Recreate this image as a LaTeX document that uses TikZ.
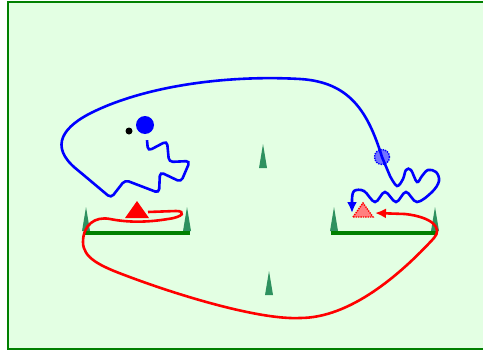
\documentclass[tikz,border=0pt]{standalone}
\usepackage{tikz}
\usetikzlibrary{shapes,shapes.geometric,arrows.meta,positioning}
\definecolor{lawn}{RGB}{227,255,227}
\definecolor{hedge}{RGB}{0,128,0}
\definecolor{pine}{RGB}{46,145,95}
\tikzstyle{ledge}=[draw=hedge,line width=3.2pt]
\tikzstyle{cone}=[fill=pine]
\tikzstyle{bluetrack}=[draw=blue,line width=2.6pt,-{Latex[length=11pt,width=10pt]}]
\tikzstyle{redtrack}=[draw=red,line width=2.6pt,-{Latex[length=11pt,width=10pt]}]
\tikzstyle{ball}=[circle,inner sep=0pt,fill=blue,minimum size=18pt]
\tikzstyle{ghost}=[ball,fill=blue!55,draw=blue,densely dotted,line width=1.4pt,minimum size=15pt]

\begin{document}
\begin{tikzpicture}[x=1pt,y=-1pt]
  \useasboundingbox (0,0) rectangle (483,351);
  \draw[hedge,fill=lawn,line width=2.2pt] (8,2) rectangle (492,349);
  % cones and ledges
  \foreach \x/\y in {86/231,187/231,334/231,435/231,263/168,269/295}
    \fill[cone] (\x-4,\y) -- (\x,\y-24) -- (\x+4,\y) -- cycle;
  \coordinate (l1) at (85,233); \coordinate (l2) at (190,233);
  \coordinate (r1) at (331,233); \coordinate (r2) at (437,233);
  \draw[ledge] (l1) -- (l2);
  \draw[ledge] (r1) -- (r2);
  % pieces
  \node[ball] (ball) at (145,125) {};
  \node[circle,fill=black,inner sep=0pt,minimum size=7pt] (dot) at (129,131) {};
  \node[ghost] (ghostball) at (382,157) {};
  \coordinate (tri) at (137,212);
  \coordinate (ghosttri) at (363,212);
  \fill[red] (tri) ++(-12,6) -- ++(12,-17) -- ++(12,17) -- cycle;
  \draw[red,densely dotted,line width=1.4pt,fill=red!50] (ghosttri) ++(-10,5) -- ++(10,-14) -- ++(10,14) -- cycle;
  % moves
  \draw[bluetrack] ([shift={(2,6)}]ball.south) [rounded corners=4pt]
      -- (148,151) -- (167,141) -- (169,162) -- (190,161) -- (181,182)
      -- (160,172) -- (159,193) -- (125,180) -- (111,198) -- (80,172) [sharp corners]
      .. controls (48,146) and (63,126) .. (95,111)
      .. controls (150,85) and (230,75) .. (300,79)
      .. controls (350,82) and (368,112) .. (ghostball.center)
      -- plot[smooth,tension=0.6] coordinates {(390,176) (397,186) (403,179) (406,170) (411,170) (417,182) (422,176) (428,170) (436,172) (439,181) (432,192) (417,202) (406,192) (396,202) (385,192) (375,202) (364,191) (354,191) (352,200)}
      -- ([shift={(-11,1)}]ghosttri);
  \draw[redtrack] ([shift={(11,0)}]tri) -- (176,211)
      .. controls (186,211) and (184,217) .. (168,219)
      .. controls (150,222) and (130,223) .. (110,219)
      .. controls (95,216) and (83,225) .. (83,242)
      .. controls (83,258) and (100,266) .. (127,276)
      .. controls (180,296) and (260,320) .. (300,318)
      .. controls (350,318) and (400,275) .. (434,238)
      .. controls (443,228) and (432,217) .. (405,214)
      -- ([shift={(12,1)}]ghosttri);
\end{tikzpicture}
\end{document}
